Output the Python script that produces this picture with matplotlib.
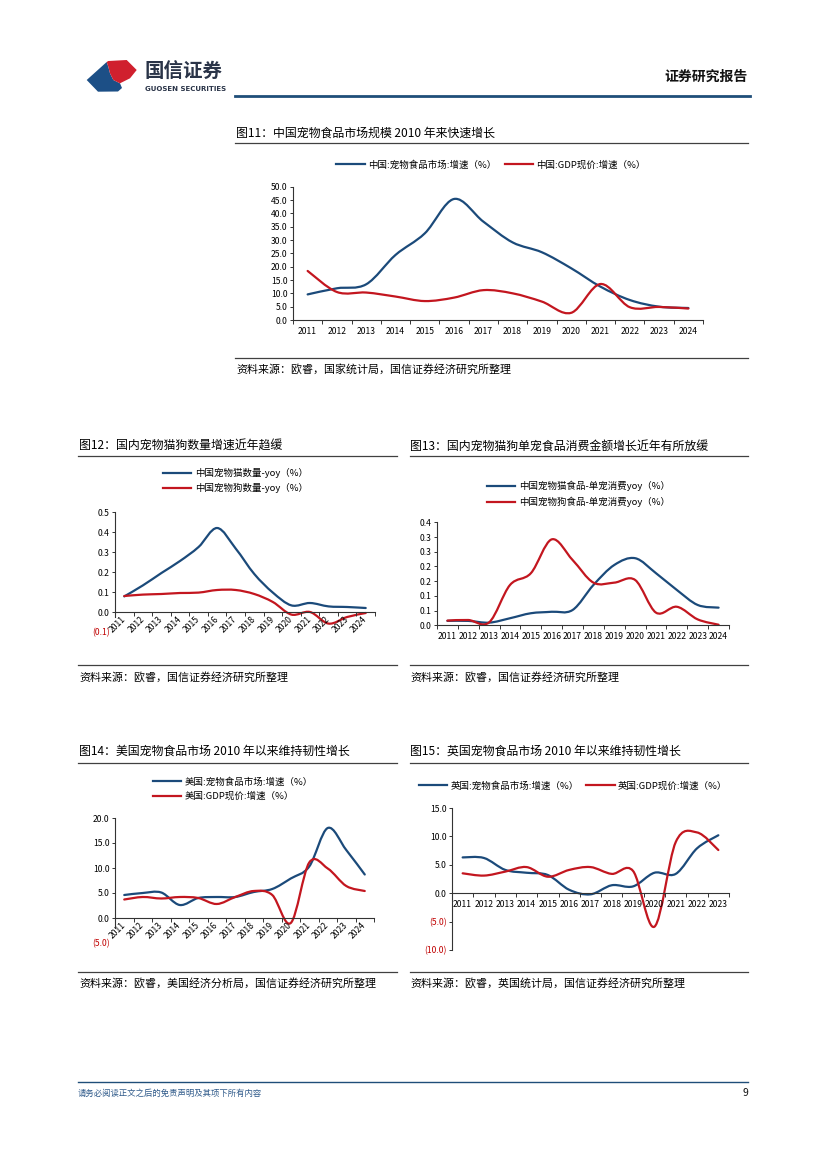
import numpy as np
import matplotlib
matplotlib.use('Agg')
import matplotlib.pyplot as plt
from matplotlib.path import Path
from matplotlib.patches import PathPatch, Polygon
from matplotlib.lines import Line2D

plt.rcParams['font.family'] = ['Noto Sans CJK SC', 'DejaVu Sans']

BLUE = '#1B4A7A'
RED = '#C3161F'
NAVY = '#1F4E79'
NEG = '#C00000'

# ---- data ----
years14 = ['2011', '2012', '2013', '2014', '2015', '2016', '2017',
           '2018', '2019', '2020', '2021', '2022', '2023', '2024']
years13 = years14[:-1]

# fig 11
cn_petfood = [9.6, 11.9, 13.4, 24.4, 32.5, 45.4, 36.9, 29.1, 25.4, 19.4, 12.5, 7.5, 5.0, 4.5]
cn_gdp = [18.4, 10.5, 10.3, 8.8, 7.1, 8.4, 11.2, 10.0, 6.9, 2.7, 13.5, 4.8, 4.9, 4.3]
# fig 12
cn_cat_num = [0.078, 0.133, 0.195, 0.255, 0.325, 0.42, 0.317, 0.19, 0.097, 0.033, 0.045, 0.028, 0.025, 0.02]
cn_dog_num = [0.08, 0.087, 0.09, 0.095, 0.097, 0.11, 0.11, 0.09, 0.05, -0.013, 0.0, -0.058, -0.025, -0.005]
# fig 13
cn_cat_food = [0.015, 0.015, 0.009, 0.024, 0.041, 0.046, 0.052, 0.137, 0.205, 0.228, 0.177, 0.12, 0.069, 0.06]
cn_dog_food = [0.016, 0.018, 0.01, 0.137, 0.177, 0.292, 0.222, 0.145, 0.145, 0.154, 0.043, 0.063, 0.02, 0.002]
# fig 14
us_petfood = [4.6, 5.0, 5.1, 2.6, 4.0, 4.2, 4.2, 5.2, 5.8, 7.9, 10.3, 18.0, 13.6, 8.7]
us_gdp = [3.7, 4.2, 3.9, 4.2, 4.0, 2.8, 4.2, 5.4, 4.6, -1.0, 11.1, 9.9, 6.4, 5.4]
# fig 15
uk_petfood = [6.3, 6.2, 4.1, 3.6, 3.2, 0.6, -0.2, 1.4, 1.2, 3.6, 3.4, 7.9, 10.2]
uk_gdp = [3.5, 3.1, 3.8, 4.6, 2.9, 4.1, 4.6, 3.4, 3.9, -5.9, 9.0, 10.7, 7.6]

W, H = 827, 1169
fig = plt.figure(figsize=(W / 100, H / 100), dpi=100)

TITLE_FS = 8.6
SRC_FS = 7.9
TICK_FS = 6.2
LEG_FS = 6.8


def box(x0, y0, x1, y1):
    return [x0 / W, 1 - y1 / H, (x1 - x0) / W, (y1 - y0) / H]


def ftext(x, y, s, **kw):
    kw.setdefault('va', 'center')
    return fig.text(x / W, 1 - y / H, s, **kw)


def hline(x0, x1, y, color='#404040', lw=0.9):
    fig.add_artist(Line2D([x0 / W, x1 / W], [1 - y / H] * 2, color=color, lw=lw))


def smooth_path(x, y):
    # excel-like smoothed line: bezier through the points
    verts = [(x[0], y[0])]
    codes = [Path.MOVETO]
    n = len(x)
    for i in range(n - 1):
        p0 = (x[i - 1], y[i - 1]) if i > 0 else (x[i], y[i])
        p1 = (x[i], y[i])
        p2 = (x[i + 1], y[i + 1])
        p3 = (x[i + 2], y[i + 2]) if i + 2 < n else p2
        c1 = (p1[0] + (p2[0] - p0[0]) / 6, p1[1] + (p2[1] - p0[1]) / 6)
        c2 = (p2[0] - (p3[0] - p1[0]) / 6, p2[1] - (p3[1] - p1[1]) / 6)
        verts += [c1, c2, p2]
        codes += [Path.CURVE4] * 3
    return Path(verts, codes)


def draw_series(ax, vals, color):
    x = np.arange(len(vals)) + 0.5
    ax.add_patch(PathPatch(smooth_path(x, vals), facecolor='none', edgecolor=color,
                           lw=1.6, capstyle='round', joinstyle='round'))


def style_axes(ax, years, ylim, yticks, ylabels, zero_axis=False, rotate=False, left_bounds=None):
    n = len(years)
    ax.set_xlim(0, n)
    ax.set_ylim(*ylim)
    ax.patch.set_alpha(0)
    for s in ['top', 'right']:
        ax.spines[s].set_visible(False)
    for s in ['left', 'bottom']:
        ax.spines[s].set_color('#333333')
        ax.spines[s].set_linewidth(0.8)
    if zero_axis:
        ax.spines['bottom'].set_position(('data', 0))
    if left_bounds:
        ax.spines['left'].set_bounds(*left_bounds)
    ax.set_xticks(np.arange(n + 1))
    ax.set_xticklabels([])
    ax.set_xticks(np.arange(n) + 0.5, minor=True)
    ax.set_xticklabels(years, minor=True)
    ax.tick_params(axis='x', which='major', direction='out', length=3, width=0.7, color='#333333')
    ax.tick_params(axis='x', which='minor', length=0, labelsize=TICK_FS, pad=5 if not rotate else 4)
    ax.set_yticks(yticks)
    ax.set_yticklabels(ylabels)
    ax.tick_params(axis='y', direction='out', length=2.5, width=0.7, color='#333333',
                   labelsize=TICK_FS, pad=1.5)
    for tk, v, lbl in zip(ax.yaxis.get_major_ticks(), yticks, ax.get_yticklabels()):
        if v < 0:
            lbl.set_color(NEG)
            if left_bounds and v < left_bounds[0]:
                tk.tick1line.set_visible(False)
    if rotate:
        for t in ax.get_xticklabels(minor=True):
            t.set_rotation(45)
            t.set_ha('right')
            t.set_va('center')
            t.set_rotation_mode('anchor')


def legend(labels, x, y, loc='upper left', ncol=1, colspace=1.0):
    handles = [Line2D([], [], color=BLUE, lw=1.6), Line2D([], [], color=RED, lw=1.6)]
    fig.legend(handles, labels, loc=loc, bbox_to_anchor=(x / W, 1 - y / H), frameon=False,
               fontsize=LEG_FS, handlelength=3.0, handletextpad=0.35, borderpad=0,
               borderaxespad=0, labelspacing=0.55, ncol=ncol, columnspacing=colspace)


# ---- header ----
blue_logo = [(86.7, 80), (106.7, 62), (108.3, 66.7), (110, 73.3), (113.3, 80), (120, 83.3),
             (122, 88), (118, 91.5), (98, 91.7)]
red_logo = [(106.7, 62), (108.3, 61), (126.7, 60), (136.7, 70), (130, 78.3), (120, 83.3),
            (113.3, 80), (110, 73.3), (108.3, 66.7)]
for pts, col in [(blue_logo, '#1C4F86'), (red_logo, '#D0202E')]:
    fig.add_artist(Polygon([(px / W, 1 - py / H) for px, py in pts], closed=True,
                           facecolor=col, edgecolor='none', transform=fig.transFigure))
ftext(144, 72, '国信证券', fontsize=14, color='#2A3448', fontweight='bold')
ftext(145, 89, 'GUOSEN SECURITIES', fontsize=5, color='#2A3448', fontweight='bold', family='DejaVu Sans')
ftext(748, 77, '证券研究报告', fontsize=10, ha='right', fontweight='bold', color='#111111')
hline(235, 750, 96, color=NAVY, lw=2)

# ---- fig 11 ----
ftext(236, 133, '图11：中国宠物食品市场规模 2010 年来快速增长', fontsize=TITLE_FS)
hline(235, 748, 143)
legend(['中国:宠物食品市场:增速（%）', '中国:GDP现价:增速（%）'], 491, 165, loc='center', ncol=2, colspace=0.9)
ax1 = fig.add_axes(box(293, 186.7, 703, 320))
draw_series(ax1, cn_petfood, BLUE)
draw_series(ax1, cn_gdp, RED)
t11 = np.arange(0, 50.1, 5)
style_axes(ax1, years14, (0, 50), t11, ['%.1f' % v for v in t11])
hline(235, 748, 358)
ftext(236, 369, '资料来源：欧睿，国家统计局，国信证券经济研究所整理', fontsize=SRC_FS)

# ---- fig 12 ----
ftext(79, 446, '图12：国内宠物猫狗数量增速近年趋缓', fontsize=TITLE_FS)
hline(78, 397, 456)
legend(['中国宠物猫数量-yoy（%）', '中国宠物狗数量-yoy（%）'], 163, 468)
ax2 = fig.add_axes(box(115, 512, 375, 632))
draw_series(ax2, cn_cat_num, BLUE)
draw_series(ax2, cn_dog_num, RED)
t12 = [-0.1, 0.0, 0.1, 0.2, 0.3, 0.4, 0.5]
style_axes(ax2, years14, (-0.1, 0.5), t12, ['(0.1)', '0.0', '0.1', '0.2', '0.3', '0.4', '0.5'],
           zero_axis=True, rotate=True, left_bounds=(-0.025, 0.5))
hline(78, 397, 665)
ftext(79, 677, '资料来源：欧睿，国信证券经济研究所整理', fontsize=SRC_FS)

# ---- fig 13 ----
ftext(410, 446, '图13：国内宠物猫狗单宠食品消费金额增长近年有所放缓', fontsize=TITLE_FS)
hline(410, 748, 456)
legend(['中国宠物猫食品-单宠消费yoy（%）', '中国宠物狗食品-单宠消费yoy（%）'], 487, 481)
ax3 = fig.add_axes(box(437, 522.3, 729, 625.3))
draw_series(ax3, cn_cat_food, BLUE)
draw_series(ax3, cn_dog_food, RED)
t13 = [0.0, 0.05, 0.1, 0.15, 0.2, 0.25, 0.3, 0.35]
style_axes(ax3, years14, (0, 0.35), t13, ['0.0', '0.1', '0.1', '0.2', '0.2', '0.3', '0.3', '0.4'])
hline(410, 748, 665)
ftext(410, 677, '资料来源：欧睿，国信证券经济研究所整理', fontsize=SRC_FS)

# ---- fig 14 ----
ftext(79, 751, '图14：美国宠物食品市场 2010 年以来维持韧性增长', fontsize=TITLE_FS)
hline(78, 397, 763)
legend(['美国:宠物食品市场:增速（%）', '美国:GDP现价:增速（%）'], 153, 777)
ax4 = fig.add_axes(box(115, 818, 374, 943))
draw_series(ax4, us_petfood, BLUE)
draw_series(ax4, us_gdp, RED)
t14 = [-5, 0, 5, 10, 15, 20]
style_axes(ax4, years14, (-5, 20), t14, ['(5.0)', '0.0', '5.0', '10.0', '15.0', '20.0'],
           zero_axis=True, rotate=True, left_bounds=(-2, 20))
hline(78, 397, 972)
ftext(79, 983, '资料来源：欧睿，美国经济分析局，国信证券经济研究所整理', fontsize=SRC_FS)

# ---- fig 15 ----
ftext(410, 751, '图15：英国宠物食品市场 2010 年以来维持韧性增长', fontsize=TITLE_FS)
hline(410, 748, 763)
legend(['英国:宠物食品市场:增速（%）', '英国:GDP现价:增速（%）'], 573, 786, loc='center', ncol=2, colspace=0.8)
ax5 = fig.add_axes(box(452, 808, 729, 950))
draw_series(ax5, uk_petfood, BLUE)
draw_series(ax5, uk_gdp, RED)
t15 = [-10, -5, 0, 5, 10, 15]
style_axes(ax5, years13, (-10, 15), t15, ['(10.0)', '(5.0)', '0.0', '5.0', '10.0', '15.0'],
           zero_axis=True)
hline(410, 748, 972)
ftext(410, 983, '资料来源：欧睿，英国统计局，国信证券经济研究所整理', fontsize=SRC_FS)

# ---- footer ----
hline(78, 748, 1082, color=NAVY, lw=1)
ftext(78, 1093, '请务必阅读正文之后的免责声明及其项下所有内容', fontsize=6, color='#2F5A8A')
ftext(748, 1093, '9', fontsize=7.5, ha='right', color='#111111')

fig.savefig('out.png', dpi=100)
